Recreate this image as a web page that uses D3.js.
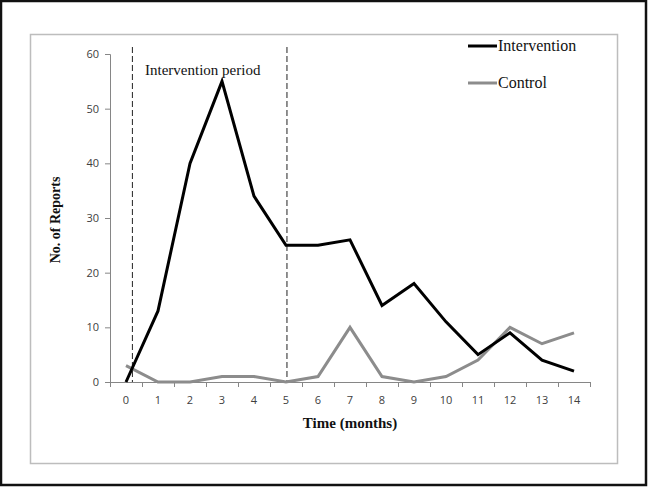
<!DOCTYPE html>
<html>
<head>
<meta charset="utf-8">
<script src="https://cdn.jsdelivr.net/npm/d3@7"></script>
<style>
  body { margin: 0; background: #fff; }
  svg { display: block; }
</style>
</head>
<body>
<div id="chart"></div>
<script>
// data
const months = [0, 1, 2, 3, 4, 5, 6, 7, 8, 9, 10, 11, 12, 13, 14];
const intervention = [0, 13, 40, 55, 34, 25, 25, 26, 14, 18, 11, 5, 9, 4, 2];
const control = [3, 0, 0, 1, 1, 0, 1, 10, 1, 0, 1, 4, 10, 7, 9];
const yTicks = [0, 10, 20, 30, 40, 50, 60];
const periodBounds = [0.2, 5.03];

const width = 648, height = 488;
const margin = {left: 110, right: 58, top: 54, bottom: 106};

const svg = d3.select('#chart').append('svg')
    .attr('width', width)
    .attr('height', height);

// outer black frame and inner grey chart border
svg.append('rect')
    .attr('x', 1).attr('y', 1)
    .attr('width', width - 3).attr('height', height - 4)
    .attr('fill', 'none').attr('stroke', '#111').attr('stroke-width', 2.5);
svg.append('rect')
    .attr('x', 30.5).attr('y', 34.5)
    .attr('width', 587).attr('height', 429)
    .attr('fill', 'none').attr('stroke', '#bdbdbd').attr('stroke-width', 1.5);

const x = d3.scaleLinear()
    .domain([-0.5, 14.5])
    .range([margin.left, width - margin.right]);

const y = d3.scaleLinear()
    .domain([0, 60])
    .range([height - margin.bottom, margin.top]);

const axisColor = '#868686';

// y axis
const yAxis = svg.append('g')
    .attr('transform', `translate(${margin.left},0)`)
    .call(d3.axisLeft(y).tickValues(yTicks).tickSize(5).tickPadding(6));
yAxis.select('.domain').attr('stroke', axisColor);
yAxis.selectAll('.tick line').attr('stroke', axisColor);
yAxis.selectAll('.tick text')
    .attr('fill', '#404040')
    .style('font-family', 'Open Sans, DejaVu Sans, sans-serif')
    .style('font-size', '11px');

// x axis: tick marks between categories, labels at categories
const xAxis = svg.append('g')
    .attr('transform', `translate(0,${y(0)})`)
    .call(d3.axisBottom(x).tickValues(d3.range(-0.5, 15, 1)).tickSize(5).tickFormat(''));
xAxis.select('.domain').attr('stroke', axisColor);
xAxis.selectAll('.tick line').attr('stroke', axisColor);

svg.append('g')
    .selectAll('text')
    .data(months)
    .join('text')
    .attr('x', d => x(d))
    .attr('y', y(0) + 22)
    .attr('text-anchor', 'middle')
    .attr('fill', '#404040')
    .style('font-family', 'Open Sans, DejaVu Sans, sans-serif')
    .style('font-size', '11px')
    .text(d => d);

// dashed lines for the intervention period
svg.append('g')
    .selectAll('line')
    .data(periodBounds)
    .join('line')
    .attr('x1', d => x(d)).attr('x2', d => x(d))
    .attr('y1', 47).attr('y2', y(0))
    .attr('stroke', '#222')
    .attr('stroke-width', 1)
    .attr('stroke-dasharray', '6,3');

svg.append('text')
    .attr('x', 145)
    .attr('y', 75)
    .style('font-family', 'Liberation Serif, Times New Roman, serif')
    .style('font-size', '15px')
    .attr('fill', '#111')
    .text('Intervention period');

// lines
const line = d3.line()
    .x((d, i) => x(months[i]))
    .y(d => y(d));

svg.append('path')
    .datum(control)
    .attr('d', line)
    .attr('fill', 'none')
    .attr('stroke', '#8c8c8c')
    .attr('stroke-width', 3)
    .attr('stroke-linejoin', 'miter');

svg.append('path')
    .datum(intervention)
    .attr('d', line)
    .attr('fill', 'none')
    .attr('stroke', '#000')
    .attr('stroke-width', 3)
    .attr('stroke-linejoin', 'miter');

// axis titles
svg.append('text')
    .attr('transform', `translate(60,${(y(0) + y(60)) / 2 + 2}) rotate(-90)`)
    .attr('text-anchor', 'middle')
    .style('font-family', 'Liberation Serif, Times New Roman, serif')
    .style('font-size', '14px')
    .style('font-weight', 'bold')
    .attr('fill', '#111')
    .text('No. of Reports');

svg.append('text')
    .attr('x', 350)
    .attr('y', 428)
    .attr('text-anchor', 'middle')
    .style('font-family', 'Liberation Serif, Times New Roman, serif')
    .style('font-size', '15px')
    .style('font-weight', 'bold')
    .attr('fill', '#111')
    .text('Time (months)');

// legend
const legendItems = [
    {name: 'Intervention', color: '#000', y: 46},
    {name: 'Control', color: '#8c8c8c', y: 83}
];
const legend = svg.append('g');
legend.selectAll('line')
    .data(legendItems)
    .join('line')
    .attr('x1', 468).attr('x2', 497)
    .attr('y1', d => d.y).attr('y2', d => d.y)
    .attr('stroke', d => d.color)
    .attr('stroke-width', 3);
legend.selectAll('text')
    .data(legendItems)
    .join('text')
    .attr('x', 498)
    .attr('y', d => d.y + 5)
    .style('font-family', 'Liberation Serif, Times New Roman, serif')
    .style('font-size', '16px')
    .attr('fill', '#111')
    .text(d => d.name);
</script>
</body>
</html>
